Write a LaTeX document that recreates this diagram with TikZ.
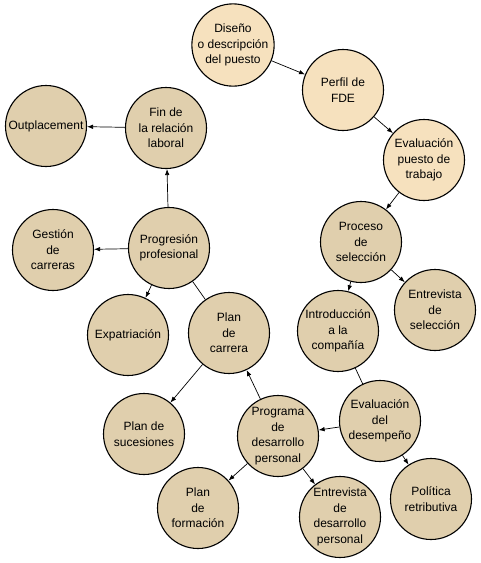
\documentclass[tikz,border=0pt]{standalone}
\usepackage{fontspec}
\setmainfont{Liberation Sans}
\usetikzlibrary{arrows.meta}
\definecolor{lightc}{RGB}{246,225,190}
\definecolor{tanc}{RGB}{224,207,173}
\tikzset{
  bub/.style={circle,draw=black,line width=1.1pt,fill=tanc,minimum size=81pt,inner sep=0pt,align=center,
    font=\fontsize{12}{15.5}\selectfont},
  lbub/.style={bub,fill=lightc},
  arr/.style={-{Latex[length=6pt,width=4.5pt]},line width=0.7pt},
  ln/.style={line width=0.7pt}
}
\begin{document}
\begin{tikzpicture}[x=1pt,y=-1pt]
\useasboundingbox[fill=white] (0,0) rectangle (481,563);
\node[lbub] (dis) at (233,45) {Diseño\\o descripción\\del puesto};
\node[lbub] (per) at (343,90) {Perfil de\\FDE};
\node[lbub] (evp) at (424,160) {Evaluación\\puesto de\\trabajo};
\node[bub] (pro) at (361,242) {Proceso\\de\\selección};
\node[bub] (ens) at (435,310) {Entrevista\\de\\selección};
\node[bub] (int) at (338,331) {Introducción\\a la\\compañía};
\node[bub] (eva) at (380,421) {Evaluación\\del\\desempeño};
\node[bub] (pol) at (431,499) {Política\\retributiva};
\node[bub] (end) at (340,517) {Entrevista\\de\\desarrollo\\personal};
\node[bub] (prg) at (278,436) {Programa\\de\\desarrollo\\personal};
\node[bub] (pfo) at (198,508) {Plan\\de\\formación};
\node[bub] (psu) at (144,434) {Plan de\\sucesiones};
\node[bub] (pca) at (229,333) {Plan\\de\\carrera};
\node[bub] (exp) at (128,335) {Expatriación};
\node[bub] (pre) at (169,248) {Progresión\\profesional};
\node[bub] (ges) at (53,250) {Gestión\\de\\carreras};
\node[bub] (fin) at (166,128) {Fin de\\la relación\\laboral};
\node[bub] (out) at (46,126) {Outplacement};

\draw[arr] (dis) -- (per);
\draw[arr] (per) -- (evp);
\draw[arr] (evp) -- (pro);
\draw[arr] (pro) -- (ens);
\draw[arr] (pro) -- (int);
\draw[ln] (int) -- (eva);
\draw[arr] (eva) -- (prg);
\draw[arr] (eva) -- (pol);
\draw[arr] (prg) -- (end);
\draw[arr] (prg) -- (pfo);
\draw[arr] (prg) -- (pca);
\draw[arr] (pca) -- (psu);
\draw[ln] (pca) -- (pre);
\draw[arr] (pre) -- (exp);
\draw[arr] (pre) -- (ges);
\draw[arr] (pre) -- (fin);
\draw[arr] (fin) -- (out);
\end{tikzpicture}
\end{document}
